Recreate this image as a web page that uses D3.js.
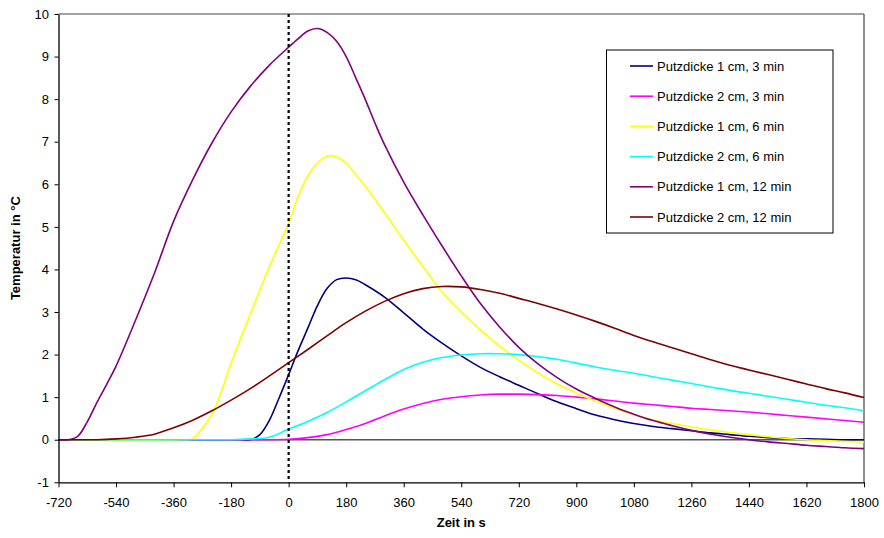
<!DOCTYPE html>
<html><head><meta charset="utf-8">
<script src="https://cdn.jsdelivr.net/npm/d3@7"></script>
<style>
body{margin:0;background:#fff;}
svg{font-family:"Liberation Sans",Arial,sans-serif;}
</style></head>
<body><svg id="c" width="884" height="538"></svg>
<script>
const times = d3.range(-720, 1801, 60);
const tail = d3.range(480, 1801, 60);
const xTicks = [-720,-540,-360,-180,0,180,360,540,720,900,1080,1260,1440,1620,1800];
const yTicks = [-1,0,1,2,3,4,5,6,7,8,9,10];
const seriesNames = ["Putzdicke 1 cm, 3 min","Putzdicke 2 cm, 3 min","Putzdicke 1 cm, 6 min","Putzdicke 2 cm, 6 min","Putzdicke 1 cm, 12 min","Putzdicke 2 cm, 12 min"];
const seriesColors = ["#000080","#FF00FF","#FFFF00","#00FFFF","#800080","#800000"];

// Putzdicke 1 cm, 3 min
const t1cm3 = [-720,-150,-120,-90,-60,-30,0,30,60,90,120,150,180,210,240,300,360,420].concat(tail);
const s1cm3 = [0,0,0,0.12,0.46,0.98,1.53,2.1,2.62,3.15,3.55,3.76,3.8,3.76,3.64,3.35,2.98,2.6,2.27,1.97,1.7,1.48,1.28,1.08,0.89,0.73,0.58,0.47,0.38,0.31,0.26,0.21,0.16,0.12,0.08,0.05,0.03,0.02,0.01,0,0];
// Putzdicke 2 cm, 3 min (60 s grid)
const s2cm3 = [0,0,0,0,0,0,0,0,0,0,0,0,0.01,0.05,0.12,0.24,0.38,0.56,0.72,0.85,0.95,1.01,1.05,1.07,1.07,1.06,1.04,1.0,0.96,0.91,0.86,0.82,0.78,0.74,0.71,0.68,0.65,0.61,0.57,0.53,0.49,0.45,0.41];
// Putzdicke 1 cm, 6 min
const t1cm6 = [-720,-330,-300,-270,-240,-210,-180,-120,-60,0,30,60,90,120,150,180,210,240,270,300,360,420].concat(tail);
const s1cm6 = [0,0,0.02,0.27,0.6,1.14,1.8,2.95,4.07,5.09,5.72,6.2,6.5,6.66,6.64,6.5,6.23,5.95,5.65,5.33,4.69,4.07,3.47,3.0,2.58,2.2,1.87,1.57,1.31,1.1,0.91,0.74,0.59,0.47,0.38,0.3,0.23,0.17,0.12,0.07,0.03,0,-0.02,-0.04,-0.06];
// Putzdicke 2 cm, 6 min (60 s grid)
const s2cm6 = [0,0,0,0,0,0,0,0,0,0,0.02,0.06,0.25,0.43,0.64,0.89,1.15,1.41,1.65,1.82,1.93,1.99,2.02,2.02,2.0,1.95,1.89,1.8,1.71,1.63,1.56,1.48,1.4,1.32,1.24,1.16,1.09,1.02,0.95,0.88,0.81,0.75,0.68];
// Putzdicke 1 cm, 12 min
const t1cm12 = [-720,-690,-660,-630,-600,-570,-540,-480,-420,-360,-300,-240,-180,-120,-60,0,30,60,90,120,150,180,210,240,270,300,360,420].concat(tail);
const s1cm12 = [0,0,0.08,0.42,0.87,1.29,1.73,2.79,3.91,5.13,6.11,6.97,7.7,8.3,8.8,9.22,9.42,9.6,9.66,9.57,9.36,9.0,8.5,7.99,7.44,6.93,6.05,5.28,4.55,3.85,3.2,2.65,2.17,1.78,1.46,1.19,0.97,0.77,0.6,0.45,0.33,0.22,0.13,0.06,0,-0.05,-0.09,-0.13,-0.16,-0.19,-0.21];
// Putzdicke 2 cm, 12 min (60 s grid)
const s2cm12 = [0,0,0,0.02,0.06,0.13,0.28,0.46,0.68,0.93,1.2,1.5,1.81,2.12,2.44,2.75,3.02,3.25,3.43,3.55,3.6,3.59,3.53,3.44,3.32,3.2,3.07,2.93,2.78,2.62,2.45,2.3,2.16,2.02,1.88,1.75,1.64,1.53,1.42,1.31,1.2,1.1,0.99];

const seriesTimes = [t1cm3, times, t1cm6, times, t1cm12, times];
const seriesValues = [s1cm3, s2cm3, s1cm6, s2cm6, s1cm12, s2cm12];

const svg = d3.select("#c");
const L=58.5, R=864, T=14, B=482.3;
const x = d3.scaleLinear().domain([-720,1800]).range([L,R]);
const y = d3.scaleLinear().domain([-1,10]).range([B,T]);

// plot border (top, right)
svg.append("line").attr("x1",L).attr("x2",R).attr("y1",T).attr("y2",T).attr("stroke","#444").attr("stroke-width",1.2);
svg.append("line").attr("x1",R).attr("x2",R).attr("y1",T).attr("y2",B).attr("stroke","#444").attr("stroke-width",1.2);
// zero line
svg.append("line").attr("x1",L).attr("x2",R).attr("y1",y(0)).attr("y2",y(0)).attr("stroke","#555").attr("stroke-width",1.5);

seriesValues.forEach((vals,k)=>{
  const ts = seriesTimes[k];
  const pts = vals.map((v,i)=>[ts[i], v]);
  const line = d3.line().x(d=>x(d[0])).y(d=>y(d[1])).curve(d3.curveCatmullRom.alpha(0.5));
  svg.append("path").datum(pts).attr("d",line).attr("fill","none")
    .attr("stroke",seriesColors[k]).attr("stroke-width",1.6);
});

// dotted line at t=0
svg.append("line").attr("x1",x(0)).attr("x2",x(0)).attr("y1",T).attr("y2",B)
  .attr("stroke","#000").attr("stroke-width",2.2).attr("stroke-dasharray","3,3");

// axes
const fmt = d => String(d);
const yAxis = d3.axisLeft(y).tickValues(yTicks).tickSize(4).tickSizeOuter(0).tickFormat(fmt);
const gy = svg.append("g").attr("transform",`translate(${L},0)`).call(yAxis);
const xAxis = d3.axisBottom(x).tickValues(xTicks).tickSize(5).tickSizeOuter(0).tickFormat(fmt);
const gx = svg.append("g").attr("transform",`translate(0,${B})`).call(xAxis);
[gx,gy].forEach(g=>{
  g.selectAll("path").attr("stroke","#000").attr("stroke-width",1.3);
  g.selectAll("line").attr("stroke","#000");
  g.selectAll("text").attr("font-size",13).attr("fill","#000").attr("font-family","Liberation Sans, Arial, sans-serif");
});
gx.selectAll("text").attr("dy","1.25em");
gy.selectAll("text").attr("dx","-0.2em");

svg.append("text").attr("x",(L+R)/2).attr("y",527).attr("text-anchor","middle")
  .attr("font-size",13).attr("font-weight","bold").text("Zeit in s");
svg.append("text").attr("transform",`translate(20,${(T+B)/2}) rotate(-90)`).attr("text-anchor","middle")
  .attr("font-size",13).attr("font-weight","bold").text("Temperatur in °C");

// legend
const lg = svg.append("g");
lg.append("rect").attr("x",606.5).attr("y",50).attr("width",226.5).attr("height",183)
  .attr("fill","#fff").attr("stroke","#000").attr("stroke-width",1);
seriesNames.forEach((n,k)=>{
  const yy = 66 + k*30.2;
  lg.append("line").attr("x1",630).attr("x2",653).attr("y1",yy).attr("y2",yy)
    .attr("stroke",seriesColors[k]).attr("stroke-width",1.6);
  lg.append("text").attr("x",657).attr("y",yy+4.5).attr("font-size",13).text(n);
});
</script></body></html>
